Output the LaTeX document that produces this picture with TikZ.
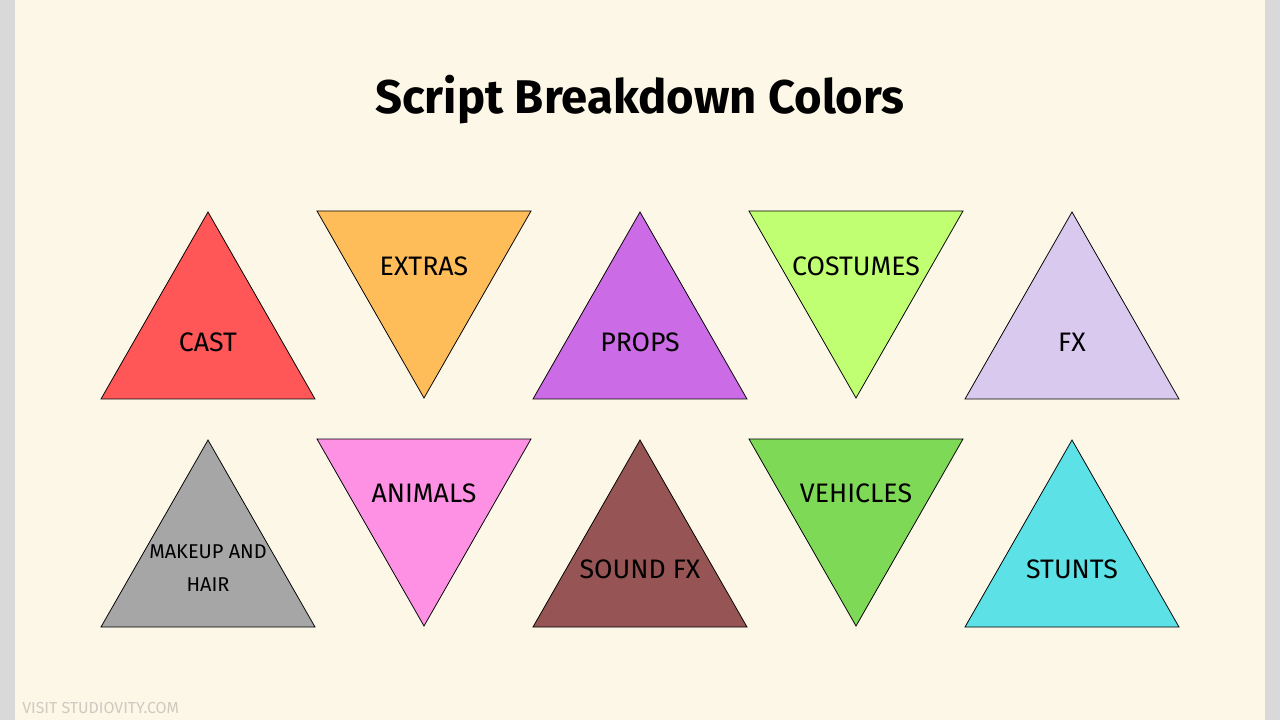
\documentclass[tikz,border=0pt]{standalone}
\usepackage{fontspec}
\setmainfont{Fira Sans}
\usepackage{tikz}

\definecolor{paper}{HTML}{FDF7E8}
\definecolor{strip}{HTML}{D9D9D9}
\definecolor{castred}{HTML}{FF5757}
\definecolor{extrasorange}{HTML}{FFBD59}
\definecolor{propspurple}{HTML}{CB6CE6}
\definecolor{costumegreen}{HTML}{C1FF72}
\definecolor{fxlilac}{HTML}{D9C9EE}
\definecolor{makeupgray}{HTML}{A6A6A6}
\definecolor{animalpink}{HTML}{FF91E5}
\definecolor{soundbrown}{HTML}{965454}
\definecolor{vehiclegreen}{HTML}{7ED957}
\definecolor{stuntcyan}{HTML}{5CE1E6}
\definecolor{footgray}{HTML}{CFCAC0}

\begin{document}
\begin{tikzpicture}[x=0.025cm, y=-0.025cm,
    tri/.style={draw=black, line width=0.55pt, line join=miter},
    lbl/.style={font=\fontsize{19}{22}\selectfont, text=black, inner sep=0pt}]
    % page
    \fill[strip] (0,0) rectangle (1280,720);
    \fill[paper] (15,0) rectangle (1265,720);
    \useasboundingbox (0,0) rectangle (1280,720);
    \node (title) at (640,100) {\fontsize{33.6}{40}\selectfont\bfseries Script Breakdown Colors};

    % top row
    \filldraw[tri, fill=castred] (101,399) -- (208,212) -- (315,399) -- cycle;
    \filldraw[tri, fill=extrasorange] (317,211) -- (531,211) -- (424,398) -- cycle;
    \filldraw[tri, fill=propspurple] (533,399) -- (640,212) -- (747,399) -- cycle;
    \filldraw[tri, fill=costumegreen] (749,211) -- (963,211) -- (856,398) -- cycle;
    \filldraw[tri, fill=fxlilac] (965,399) -- (1072,212) -- (1179,399) -- cycle;
    \node[lbl] (cast) at (208,342) {CAST};
    \node[lbl] (extras) at (424,266) {EXTRAS};
    \node[lbl] (props) at (640,342) {PROPS};
    \node[lbl] (costumes) at (856,266) {COSTUMES};
    \node[lbl] (fx) at (1072,342) {FX};

    % bottom row
    \filldraw[tri, fill=makeupgray] (101,627) -- (208,440) -- (315,627) -- cycle;
    \filldraw[tri, fill=animalpink] (317,439) -- (531,439) -- (424,626) -- cycle;
    \filldraw[tri, fill=soundbrown] (533,627) -- (640,440) -- (747,627) -- cycle;
    \filldraw[tri, fill=vehiclegreen] (749,439) -- (963,439) -- (856,626) -- cycle;
    \filldraw[tri, fill=stuntcyan] (965,627) -- (1072,440) -- (1179,627) -- cycle;
    \node[lbl, font=\fontsize{14.2}{23}\selectfont, align=center] (makeup) at (208,568) {MAKEUP AND\\HAIR};
    \node[lbl] (animals) at (424,493) {ANIMALS};
    \node[lbl] (sound) at (640,569) {SOUND FX};
    \node[lbl] (vehicles) at (856,493) {VEHICLES};
    \node[lbl] (stunts) at (1072,569) {STUNTS};

    \node[anchor=west, text=footgray, font=\fontsize{11.3}{13}\selectfont, inner sep=0pt] (footer) at (22,708) {VISIT STUDIOVITY.COM};
\end{tikzpicture}
\end{document}
